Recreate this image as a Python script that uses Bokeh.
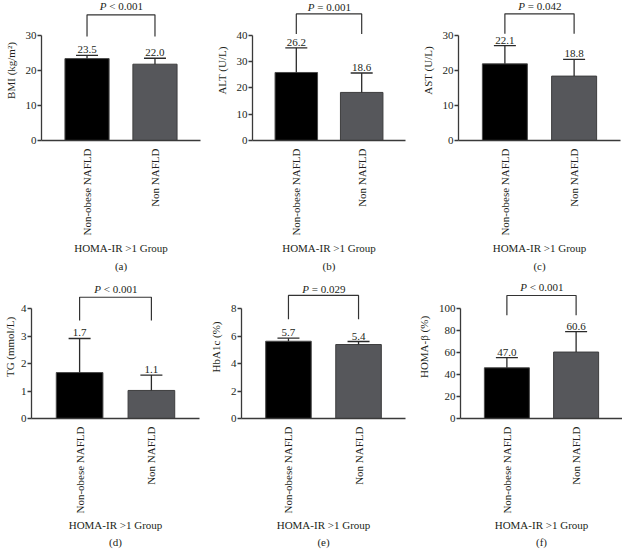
import math
from bokeh.plotting import figure
from bokeh.layouts import row, column
from bokeh.models import Range1d, FactorRange, Title, ColumnDataSource, FixedTicker
from bokeh.core.properties import value
from bokeh.embed import file_html
from bokeh.resources import INLINE

# ---------------- data ----------------
groups = ["Non-obese NAFLD", "Non NAFLD"]
x_title = "HOMA-IR >1 Group"

bmi_mean = [23.4, 21.8]
bmi_upper = [24.3, 23.5]
bmi_text = ["23.5", "22.0"]
bmi_ticks = [0, 10, 20, 30]

alt_mean = [25.9, 18.3]
alt_upper = [35.3, 25.7]
alt_text = ["26.2", "18.6"]
alt_ticks = [0, 10, 20, 30, 40]

ast_mean = [21.9, 18.4]
ast_upper = [27.1, 23.2]
ast_text = ["22.1", "18.8"]
ast_ticks = [0, 10, 20, 30]

tg_mean = [1.67, 1.02]
tg_upper = [2.91, 1.58]
tg_text = ["1.7", "1.1"]
tg_ticks = [0, 1, 2, 3, 4]

hba1c_mean = [5.62, 5.38]
hba1c_upper = [5.84, 5.60]
hba1c_text = ["5.7", "5.4"]
hba1c_ticks = [0, 2, 4, 6, 8]

homab_mean = [46.1, 60.4]
homab_upper = [55.4, 78.9]
homab_text = ["47.0", "60.6"]
homab_ticks = [0, 20, 40, 60, 80, 100]

p_values = ["< 0.001", "= 0.001", "= 0.042", "< 0.001", "= 0.029", "< 0.001"]
y_titles = ["BMI (kg/m\u00b2)", "ALT (U/L)", "AST (U/L)", "TG (mmol/L)", "HbA1c (%)", "HOMA-\u03b2 (%)"]
panel_tags = ["(a)", "(b)", "(c)", "(d)", "(e)", "(f)"]

# ---------------- layout / style ----------------
FONT = "Liberation Serif"
TXT = "#231f20"
AX = "#3a3a3a"
BAR_FILL = ["#000000", "#56575b"]
BAR_LINE = ["#4a4a4a", "#3d3d3e"]

# per panel: y_end, bracket top, bracket leg bottom, P-text y,
#            width, border left, border right, y-title standoff
layout_cfg = [
    (40.0, 35.9, 29.7, 38.3, 205, 41, 5, 6),
    (53.3, 48.2, 40.5, 51.0, 205, 47, 5, 6),
    (40.0, 36.2, 30.5, 38.3, 212, 48, 2, 6),
    (5.2, 4.41, 3.56, 4.72, 205, 31, 6, 2),
    (10.4, 8.95, 7.22, 9.43, 205, 36, 5, 6),
    (130.0, 111.8, 93.8, 119.4, 212, 50, 0, 6),
]

panels = [
    (bmi_mean, bmi_upper, bmi_text, bmi_ticks),
    (alt_mean, alt_upper, alt_text, alt_ticks),
    (ast_mean, ast_upper, ast_text, ast_ticks),
    (tg_mean, tg_upper, tg_text, tg_ticks),
    (hba1c_mean, hba1c_upper, hba1c_text, hba1c_ticks),
    (homab_mean, homab_upper, homab_text, homab_ticks),
]


def make_panel(i):
    mean, upper, labels, ticks = panels[i]
    y_end, br_top, br_leg, p_y, w, bl, brr, ylab_off = layout_cfg[i]
    top_row = i < 3
    p = figure(
        x_range=FactorRange(*groups, range_padding=0.17, range_padding_units="absolute"),
        y_range=Range1d(0, y_end),
        width=w, height=275 if top_row else 276,
        output_backend="svg", toolbar_location=None,
        min_border_left=bl, min_border_right=brr, min_border_top=0,
        min_border_bottom=135 if top_row else 133,
    )
    p.outline_line_color = None
    p.xgrid.grid_line_color = None
    p.ygrid.grid_line_color = None
    p.background_fill_color = "white"
    p.border_fill_color = "white"

    src = ColumnDataSource(dict(x=groups, mean=mean, upper=upper, label=labels,
                                fill=BAR_FILL, line=BAR_LINE))
    p.vbar(x="x", top="mean", width=0.65, source=src, fill_color="fill",
           line_color="line", line_width=1)
    p.segment(x0="x", y0="mean", x1="x", y1="upper", source=src,
              line_color="#2a2a2a", line_width=1.3)
    p.scatter(x="x", y="upper", source=src, marker="dash", size=22,
              line_color="#2a2a2a", line_width=1.3)
    p.text(x="x", y="upper", text="label", source=src, text_align="center",
           text_baseline="bottom", y_offset=-2, text_font=value(FONT),
           text_font_size="11px", text_color=TXT)

    # significance bracket
    p.line(x=[groups[0], groups[0], groups[1], groups[1]],
           y=[br_leg, br_top, br_top, br_leg], line_color="#333333", line_width=1.2)
    p.text(x=[1.0], y=[p_y], text=["P"], text_align="right", text_baseline="middle",
           x_offset=-14.5, text_font=value(FONT), text_font_style="italic",
           text_font_size="11px", text_color=TXT)
    p.text(x=[1.0], y=[p_y], text=["\u00a0" + p_values[i]], text_align="left",
           text_baseline="middle", x_offset=-14.5, text_font=value(FONT),
           text_font_size="11px", text_color=TXT)

    # axes
    p.yaxis.bounds = (ticks[0], ticks[-1])
    p.yaxis.ticker = FixedTicker(ticks=ticks)
    p.yaxis.axis_label = y_titles[i]
    p.xaxis.axis_label = x_title
    for ax in (p.xaxis[0], p.yaxis[0]):
        ax.axis_line_color = AX
        ax.axis_line_width = 1.3
        ax.major_tick_line_color = AX
        ax.major_tick_line_width = 1.3
        ax.minor_tick_line_color = None
        ax.major_label_text_font = FONT
        ax.major_label_text_font_size = "11px"
        ax.major_label_text_color = TXT
        ax.axis_label_text_font = FONT
        ax.axis_label_text_font_size = "11px"
        ax.axis_label_text_font_style = "normal"
        ax.axis_label_text_color = TXT
    p.yaxis.major_tick_out = 4
    p.yaxis.major_tick_in = 0
    p.yaxis.major_label_standoff = 1
    p.yaxis.axis_label_standoff = ylab_off
    p.xaxis.major_tick_line_color = None
    p.xaxis.major_tick_out = 0
    p.xaxis.major_tick_in = 0
    p.xaxis.major_label_orientation = math.pi / 2
    p.xaxis.major_label_standoff = 8
    p.xaxis.axis_label_standoff = 3 if top_row else 2

    p.add_layout(Title(text=panel_tags[i], align="center", text_font=FONT,
                       text_font_size="11px", text_font_style="normal",
                       text_color=TXT, standoff=3 if top_row else 0), "below")
    return p


figs = [make_panel(i) for i in range(6)]
page = column(row(*figs[0:3], spacing=0), row(*figs[3:6], spacing=0), spacing=0)
open("out.html", "w").write(file_html(page, INLINE))
